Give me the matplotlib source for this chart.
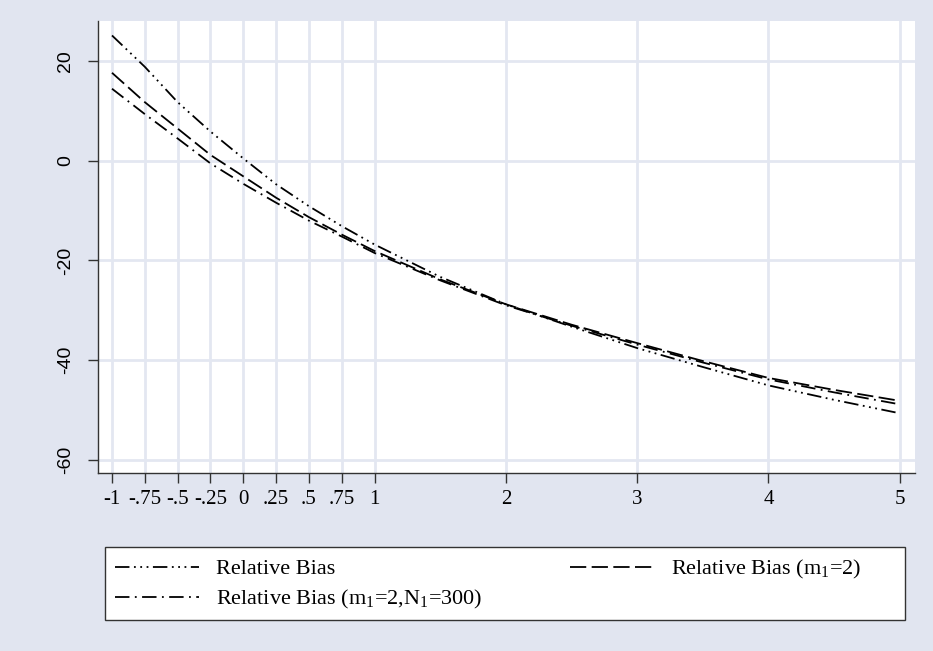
"""Relative bias curves, three variants, Stata-like styling."""

import matplotlib

matplotlib.use("Agg")
import matplotlib.pyplot as plt
from matplotlib.patches import Rectangle

# values
X = [-1, -0.75, -0.5, -0.25, 0, 0.25, 0.5, 0.75, 1, 1.5, 2, 2.5, 3, 3.5, 4, 4.5, 5]
BIAS = [25.2, 18.9, 11.8, 5.9, 0.5, -4.7, -9.1, -13.1, -16.8, -23.3, -28.8, -33.3,
        -37.6, -41.4, -45.1, -48.0, -50.7]
BIAS_M1 = [17.7, 11.8, 6.5, 1.2, -3.1, -7.4, -11.3, -14.8, -18.1, -23.8, -28.8, -32.9,
           -36.6, -40.2, -43.6, -46.0, -48.2]
BIAS_M1_N1 = [14.5, 9.4, 4.5, -0.5, -4.6, -8.4, -12.0, -15.2, -18.5, -24.0, -29.0, -33.1,
              -36.9, -40.5, -43.9, -46.5, -48.9]

X_TICKS = [-1, -0.75, -0.5, -0.25, 0, 0.25, 0.5, 0.75, 1, 2, 3, 4, 5]
X_LABELS = ["-1", "-.75", "-.5", "-.25", "0", ".25", ".5", ".75", "1", "2", "3", "4", "5"]
Y_TICKS = [-60, -40, -20, 0, 20]

BG = "#e1e5f0"
GRID = "#e3e7f1"

plt.rcParams["mathtext.fontset"] = "custom"
plt.rcParams["mathtext.rm"] = "Liberation Serif"

fig = plt.figure(figsize=(9.33, 6.51), dpi=100, facecolor=BG)
ax = fig.add_axes([0.1047, 0.2734, 0.876, 0.6943])
ax.set_facecolor("white")

l1, = ax.plot(X, BIAS, color="black", lw=1.3,
              dashes=(8, 2.5, 1, 2.5, 1, 2.5, 1, 2.5), label="Relative Bias")
l2, = ax.plot(X, BIAS_M1, color="black", lw=1.3, dashes=(9, 3),
              label="Relative Bias (m$_{\\mathregular{1}}$=2)")
l3, = ax.plot(X, BIAS_M1_N1, color="black", lw=1.3, dashes=(8, 3, 1, 3),
              label="Relative Bias (m$_{\\mathregular{1}}$=2,N$_{\\mathregular{1}}$=300)")

ax.set_xlim(-1.109, 5.116)
ax.set_ylim(-62.7, 28.1)
ax.set_xticks(X_TICKS)
ax.set_xticklabels(X_LABELS, family="Liberation Serif", fontsize=15)
ax.set_yticks(Y_TICKS)
ax.set_yticklabels([str(v) for v in Y_TICKS], family="Liberation Sans", fontsize=14,
                   rotation=90, va="center")
ax.grid(True, color=GRID, lw=2)
ax.set_axisbelow(True)
for side in ("top", "right"):
    ax.spines[side].set_visible(False)
for side in ("left", "bottom"):
    ax.spines[side].set_color("#333333")
    ax.spines[side].set_linewidth(1)
ax.tick_params(direction="out", length=7, width=1, color="#333333")
ax.tick_params(axis="x", pad=5)
ax.tick_params(axis="y", pad=10)

# legend box drawn separately so its width can match the Stata layout
fig.patches.append(Rectangle((0.1125, 0.0476), 0.8574, 0.1121, transform=fig.transFigure,
                             facecolor="white", edgecolor="#333333", lw=1, zorder=1))
leg = fig.legend(handles=[l1, l3, l2], ncol=2, loc="upper left",
                 bbox_to_anchor=(0.1233, 0.143), borderaxespad=0, borderpad=0,
                 frameon=False, prop={"family": "Liberation Serif", "size": 16},
                 handlelength=3.8, handletextpad=0.75, labelspacing=0.4,
                 columnspacing=3.95)
leg.set_zorder(2)

fig.savefig("out.png", dpi=100, facecolor=BG)
